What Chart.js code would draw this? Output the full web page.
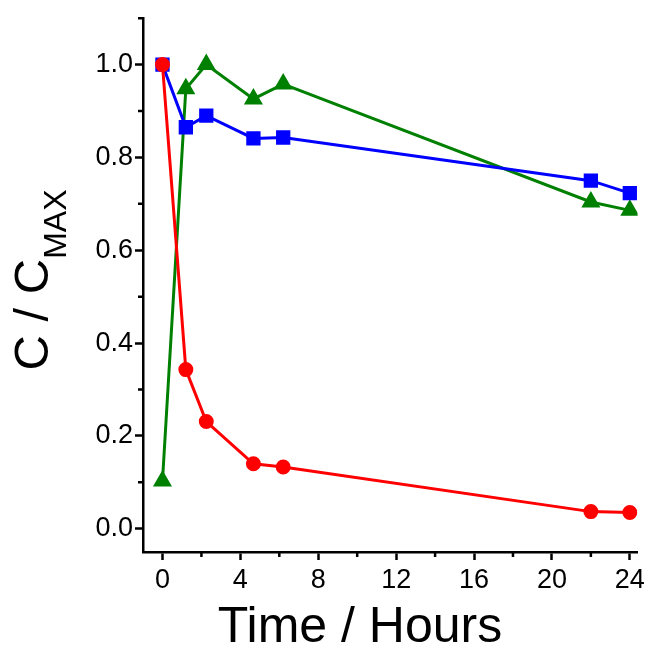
<!DOCTYPE html>
<html>
<head>
<meta charset="utf-8">
<script src="https://cdn.jsdelivr.net/npm/chart.js@4"></script>
<style>
  body { margin: 0; background: #fff; }
  #wrap { width: 649px; height: 650px; }
</style>
</head>
<body>
<div id="wrap"><canvas id="myChart" width="649" height="650"></canvas></div>
<script>
// time points (hours) and normalised concentrations
var hours = [0, 1.2, 2.25, 4.67, 6.2, 22, 24];
var redSeries = [1.0, 0.343, 0.231, 0.140, 0.133, 0.037, 0.035];
var blueSeries = [1.0, 0.865, 0.89, 0.841, 0.843, 0.750, 0.723];
var greenSeries = [0.103, 0.948, 1.0, 0.926, 0.958, 0.704, 0.686];
var xTickLabels = [0, 4, 8, 12, 16, 20, 24];
var yTickLabels = [0.0, 0.2, 0.4, 0.6, 0.8, 1.0];

var FONT = '"Liberation Sans", Arial, sans-serif';

function toPoints(ys) {
  return hours.map(function (h, i) { return { x: h, y: ys[i] }; });
}

function near(v, list) {
  return list.some(function (t) { return Math.abs(t - v) < 1e-6; });
}

// axis titles (y title needs a subscript) + short minor ticks
var axisExtras = {
  id: "axisExtras",
  afterDraw: function (chart) {
    var ctx = chart.ctx;
    var xs = chart.scales.x, ys = chart.scales.y;
    ctx.save();
    ctx.strokeStyle = "#000";
    ctx.lineWidth = 2.5;
    ctx.beginPath();
    xs.ticks.forEach(function (t) {
      if (near(t.value, xTickLabels)) return;
      var px = xs.getPixelForValue(t.value);
      ctx.moveTo(px, xs.top);
      ctx.lineTo(px, xs.top + 5);
    });
    ys.ticks.forEach(function (t) {
      if (near(t.value, yTickLabels)) return;
      var py = ys.getPixelForValue(t.value);
      ctx.moveTo(ys.right, py);
      ctx.lineTo(ys.right - 5, py);
    });
    ctx.stroke();

    ctx.fillStyle = "#000";
    ctx.textBaseline = "alphabetic";
    ctx.textAlign = "center";
    ctx.font = "50px " + FONT;
    ctx.fillText("Time / Hours", 360, 642);

    ctx.translate(48, 280);
    ctx.rotate(-Math.PI / 2);
    ctx.font = "49px " + FONT;
    var w1 = ctx.measureText("C / C").width;
    ctx.font = "32px " + FONT;
    var w2 = ctx.measureText("MAX").width;
    var start = -(w1 + w2) / 2;
    ctx.textAlign = "left";
    ctx.font = "49px " + FONT;
    ctx.fillText("C / C", start, 0);
    ctx.font = "32px " + FONT;
    ctx.fillText("MAX", start + w1, 18);
    ctx.restore();
  }
};

function majorTickColor(c) {
  return near(c.tick.value, c.scale.axis === "x" ? xTickLabels : yTickLabels) ? "#000" : "rgba(0,0,0,0)";
}

var ctx = document.getElementById("myChart").getContext("2d");
var myChart = new Chart(ctx, {
  type: "line",
  data: {
    datasets: [
      {
        data: toPoints(redSeries),
        borderColor: "#ff0000",
        backgroundColor: "#ff0000",
        pointStyle: "circle",
        pointRadius: 6,
        borderWidth: 3,
      },
      {
        data: toPoints(blueSeries),
        borderColor: "#0000ff",
        backgroundColor: "#0000ff",
        pointStyle: "rect",
        pointRadius: 8,
        borderWidth: 3,
      },
      {
        data: toPoints(greenSeries),
        borderColor: "#008000",
        backgroundColor: "#008000",
        pointStyle: "triangle",
        pointRadius: 8,
        borderWidth: 3,
      },
    ],
  },
  options: {
    responsive: false,
    animation: false,
    layout: { padding: { top: 15, right: 11, left: 0, bottom: 0 } },
    plugins: { legend: { display: false }, tooltip: { enabled: false } },
    elements: { line: { tension: 0 }, point: { borderWidth: 0 } },
    scales: {
      x: {
        type: "linear",
        min: -1,
        max: 24.4,
        afterFit: function (s) { s.height = 98; },
        border: { display: true, color: "#000", width: 2.5 },
        grid: { drawOnChartArea: false, drawTicks: true, tickLength: 8, tickColor: majorTickColor, tickWidth: 2.5 },
        ticks: {
          stepSize: 2,
          includeBounds: false,
          autoSkip: false,
          maxRotation: 0,
          padding: 4,
          color: "#000",
          font: { family: FONT, size: 27 },
          callback: function (v) { return near(v, xTickLabels) ? String(v) : ""; },
        },
      },
      y: {
        min: -0.05,
        max: 1.1,
        afterFit: function (s) { s.width = 143; },
        border: { display: true, color: "#000", width: 2.5 },
        grid: { drawOnChartArea: false, drawTicks: true, tickLength: 8, tickColor: majorTickColor, tickWidth: 2.5 },
        ticks: {
          stepSize: 0.1,
          includeBounds: false,
          autoSkip: false,
          padding: 2,
          color: "#000",
          font: { family: FONT, size: 27 },
          callback: function (v) { return near(v, yTickLabels) ? v.toFixed(1) : ""; },
        },
      },
    },
  },
  plugins: [axisExtras],
});
</script>
</body>
</html>
